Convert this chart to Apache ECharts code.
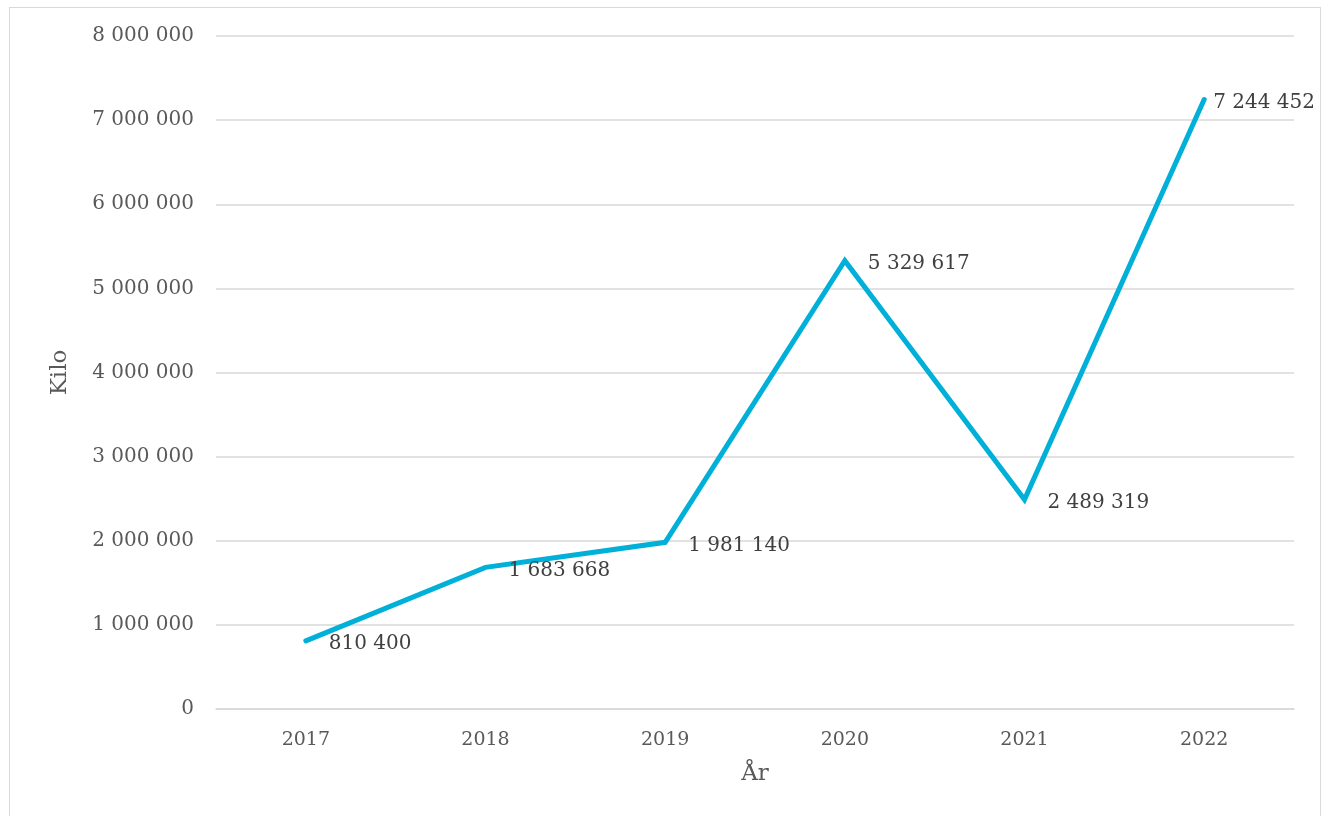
<!DOCTYPE html>
<html>
<head>
<meta charset="utf-8">
<script src="https://cdn.jsdelivr.net/npm/echarts@6/dist/echarts.min.js"></script>
<style>
  html, body { margin: 0; padding: 0; background: #fff; }
  #frame { position: absolute; left: 9px; top: 7px; width: 1312px; height: 900px; border: 1.5px solid #d9d9d9; box-sizing: border-box; }
  #chart { position: absolute; left: 0; top: 0; width: 1332px; height: 816px; }
</style>
</head>
<body>
<div id="frame"></div>
<div id="chart"></div>
<script>
const years = ['2017', '2018', '2019', '2020', '2021', '2022'];
const kilo = [810400, 1683668, 1981140, 5329617, 2489319, 7244452];
const yTicks = [0, 1000000, 2000000, 3000000, 4000000, 5000000, 6000000, 7000000, 8000000];

function fmt(v) {
  return String(Math.round(v)).replace(/\B(?=(\d{3})+(?!\d))/g, ' ');
}

const FONT = '"DejaVu Serif", "Liberation Serif", serif';
const chart = echarts.init(document.getElementById('chart'));
chart.setOption({
  animation: false,
  grid: { left: 216, right: 38, top: 36, bottom: 107 },
  xAxis: {
    type: 'category',
    data: years,
    boundaryGap: true,
    name: 'År',
    nameLocation: 'middle',
    nameGap: 54,
    nameTextStyle: { fontFamily: FONT, fontSize: 23, color: '#595959' },
    axisLine: { show: true, lineStyle: { color: '#d9d9d9', width: 1.5 } },
    axisTick: { show: false },
    axisLabel: { fontFamily: FONT, fontSize: 19, color: '#595959', margin: 22 }
  },
  yAxis: {
    type: 'value',
    min: yTicks[0],
    max: yTicks[yTicks.length - 1],
    interval: 1000000,
    name: 'Kilo',
    nameLocation: 'middle',
    nameGap: 144,
    nameRotate: 90,
    nameTextStyle: { fontFamily: FONT, fontSize: 23, color: '#595959' },
    axisLine: { show: false },
    axisTick: { show: false },
    splitLine: { lineStyle: { color: '#d9d9d9', width: 1.5 } },
    axisLabel: { fontFamily: FONT, fontSize: 20, color: '#595959', margin: 22, formatter: fmt }
  },
  series: [{
    type: 'line',
    data: kilo.map((v, i) => ({
      value: v,
      label: i === kilo.length - 1 ? { distance: 8 } : {}
    })),
    symbol: 'circle',
    symbolSize: 2,
    showSymbol: true,
    itemStyle: { color: 'rgba(0,0,0,0)', borderWidth: 0 },
    lineStyle: { color: '#00B0D8', width: 5, cap: 'round', join: 'miter' },
    label: {
      show: true,
      position: 'right',
      distance: 22,
      offset: [0, 3],
      fontFamily: FONT,
      fontSize: 20,
      color: '#404040',
      formatter: p => fmt(p.value)
    }
  }]
});
</script>
</body>
</html>
